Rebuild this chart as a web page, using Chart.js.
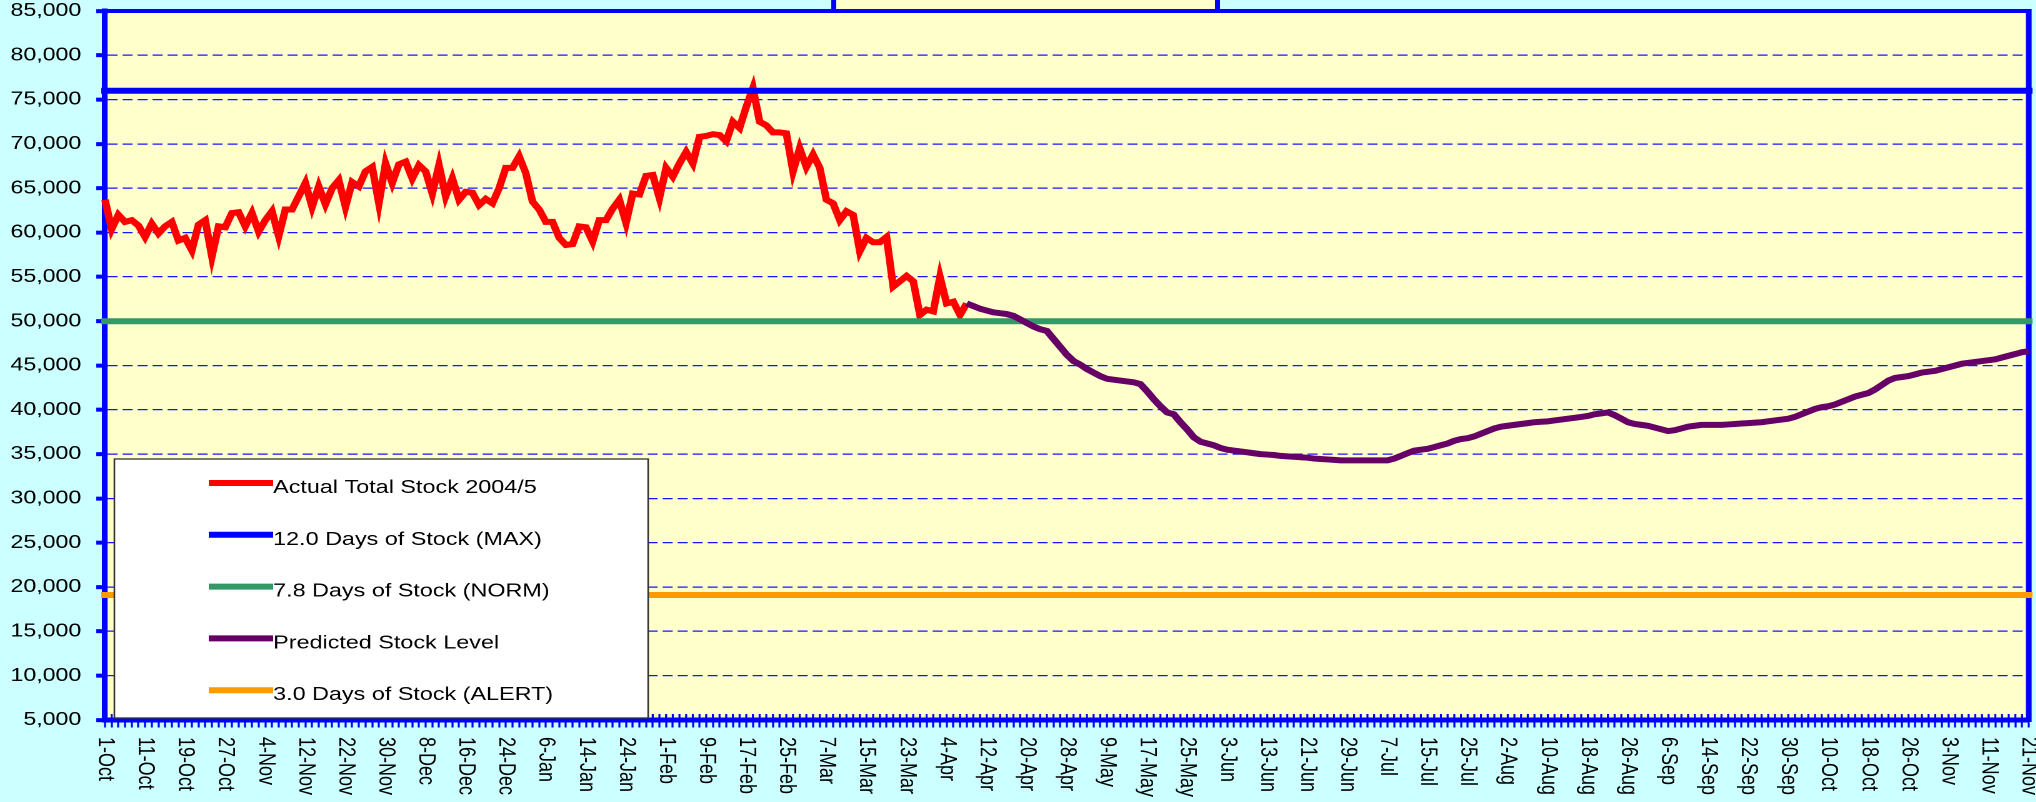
<!DOCTYPE html>
<html>
<head>
<meta charset="utf-8">
<title>Total Stock 2004/5</title>
<script src="https://cdn.jsdelivr.net/npm/chart.js@4.4.1/dist/chart.umd.min.js"></script>
<style>
  html, body { margin: 0; padding: 0; background: #ccffff; overflow: hidden; }
  /* the original picture is stretched sideways, so the chart is drawn narrow and widened */
  #wrap { width: 1629px; height: 802px; transform: scaleX(1.25); transform-origin: 0 0; }
</style>
</head>
<body>
<div id="wrap"><canvas id="stockChart" width="1629" height="802"></canvas></div>
<script>
// working days (no weekends, no bank holidays), Oct 2004 - Nov 2005
const monthNames = ['Oct', 'Nov', 'Dec', 'Jan', 'Feb', 'Mar', 'Apr', 'May', 'Jun', 'Jul', 'Aug', 'Sep', 'Oct', 'Nov'];
const monthDays = [
    [1, 4, 5, 6, 7, 8, 11, 12, 13, 14, 15, 18, 19, 20, 21, 22, 25, 26, 27, 28, 29],
    [1, 2, 3, 4, 5, 8, 9, 10, 11, 12, 15, 16, 17, 18, 19, 22, 23, 24, 25, 26, 29, 30],
    [1, 2, 3, 6, 7, 8, 9, 10, 13, 14, 15, 16, 17, 20, 21, 22, 23, 24, 29, 30, 31],
    [4, 5, 6, 7, 10, 11, 12, 13, 14, 17, 18, 19, 20, 21, 24, 25, 26, 27, 28, 31],
    [1, 2, 3, 4, 7, 8, 9, 10, 11, 14, 15, 16, 17, 18, 21, 22, 23, 24, 25, 28],
    [1, 2, 3, 4, 7, 8, 9, 10, 11, 14, 15, 16, 17, 18, 21, 22, 23, 24, 29, 30, 31],
    [1, 4, 5, 6, 7, 8, 11, 12, 13, 14, 15, 18, 19, 20, 21, 22, 25, 26, 27, 28, 29],
    [3, 4, 5, 6, 9, 10, 11, 12, 13, 16, 17, 18, 19, 20, 23, 24, 25, 26, 27, 31],
    [1, 2, 3, 6, 7, 8, 9, 10, 13, 14, 15, 16, 17, 20, 21, 22, 23, 24, 27, 28, 29, 30],
    [1, 4, 5, 6, 7, 8, 11, 12, 13, 14, 15, 18, 19, 20, 21, 22, 25, 26, 27, 28, 29],
    [1, 2, 3, 4, 5, 8, 9, 10, 11, 12, 15, 16, 17, 18, 19, 22, 23, 24, 25, 26, 30, 31],
    [1, 2, 5, 6, 7, 8, 9, 12, 13, 14, 15, 16, 19, 20, 21, 22, 23, 26, 27, 28, 29, 30],
    [3, 4, 5, 6, 7, 10, 11, 12, 13, 14, 17, 18, 19, 20, 21, 24, 25, 26, 27, 28, 31],
    [1, 2, 3, 4, 7, 8, 9, 10, 11, 14, 15, 16, 17, 18, 21]
];
const labelEvery = 6;

const actualStock = [
    63700, 60400, 62000, 61200, 61400, 60800, 59500, 61000, 59900, 60700,
    61200, 59100, 59400, 58000, 60900, 61400, 57300, 60700, 60600, 62200,
    62300, 60700, 62200, 60100, 61400, 62400, 59600, 62600, 62600, 64100,
    65600, 62900, 65200, 63200, 65000, 65900, 62900, 65700, 65200, 66900,
    67400, 63300, 67800, 65600, 67700, 68000, 66100, 67600, 66900, 64400,
    67600, 64100, 66100, 63700, 64600, 64500, 63100, 63800, 63300, 65000,
    67300, 67300, 68600, 66700, 63500, 62600, 61200, 61200, 59400, 58600,
    58700, 60700, 60600, 59000, 61400, 61400, 62700, 63700, 61100, 64400,
    64300, 66400, 66500, 63900, 67300, 66300, 67800, 69100, 67800, 70800,
    70900, 71100, 71000, 70300, 72500, 71800, 74200, 76300, 72500, 72100,
    71300, 71300, 71200, 66900, 69500, 67400, 68800, 67300, 63700, 63300,
    61400, 62400, 62000, 57900, 59400, 58900, 58900, 59500, 53900, 54500,
    55100, 54500, 50700, 51300, 51100, 55000, 52000, 52200, 50700, 52000
];

const predictedStart = 129;
const predictedStock = [
    52000, 51700, 51400, 51200, 51000, 50900, 50800, 50600, 50200, 49800,
    49400, 49100, 48900, 48000, 47100, 46200, 45500, 45100, 44600, 44200,
    43800, 43500, 43400, 43300, 43200, 43100, 42900, 42100, 41200, 40400,
    39700, 39500, 38600, 37800, 36900, 36400, 36200, 36000, 35700, 35500,
    35400, 35300, 35200, 35100, 35000, 34950, 34900, 34800, 34750, 34700,
    34650, 34600, 34500, 34450, 34400, 34350, 34300, 34300, 34300, 34300,
    34300, 34300, 34300, 34300, 34500, 34800, 35100, 35400, 35500, 35600,
    35800, 36000, 36200, 36500, 36700, 36800, 37000, 37300, 37600, 37900,
    38100, 38200, 38300, 38400, 38500, 38600, 38650, 38700, 38800, 38900,
    39000, 39100, 39200, 39300, 39500, 39600, 39700, 39400, 39000, 38600,
    38400, 38300, 38200, 38000, 37800, 37600, 37700, 37900, 38100, 38200,
    38300, 38300, 38300, 38300, 38350, 38400, 38450, 38500, 38550, 38600,
    38700, 38800, 38900, 39000, 39200, 39500, 39800, 40100, 40300, 40400,
    40600, 40900, 41200, 41500, 41700, 41900, 42300, 42800, 43300, 43600,
    43700, 43800, 44000, 44200, 44300, 44400, 44600, 44800, 45000, 45200,
    45300, 45400, 45500, 45600, 45700, 45900, 46100, 46300, 46500, 46600
];

const maxLevel = 76000;    // 12.0 days
const normLevel = 50000;   // 7.8 days
const alertLevel = 19100;  // 3.0 days

const seriesNames = [
    'Actual Total Stock 2004/5',
    '12.0 Days of Stock (MAX)',
    '7.8 Days of Stock (NORM)',
    'Predicted Stock Level',
    '3.0 Days of Stock (ALERT)'
];

const FONT = "'Liberation Sans', Arial, sans-serif";
const BLUE = '#0000ff';

const dates = monthNames.flatMap((m, k) => monthDays[k].map(d => d + '-' + m));
const flatLine = v => [{ x: dates[0], y: v }, { x: dates[dates.length - 1], y: v }];

// background, frame, legend box and the rotated date labels
const decorations = {
    id: 'decorations',
    beforeDraw(chart) {
        const { ctx, chartArea: a, width } = chart;
        ctx.save();
        ctx.fillStyle = '#ccffff';
        ctx.fillRect(0, 0, width, chart.height);
        ctx.fillStyle = '#ffffcc';
        ctx.fillRect(a.left, a.top, a.right - a.left, a.bottom - a.top);
        // bottom of the title box, cut off by the picture edge
        const cx = width / 2 + 6, hw = 153.5;
        ctx.fillRect(cx - hw, 0, hw * 2, a.top);
        ctx.strokeStyle = BLUE;
        ctx.lineWidth = 4;
        ctx.beginPath();
        ctx.moveTo(cx - hw, 0); ctx.lineTo(cx - hw, a.top);
        ctx.moveTo(cx + hw, 0); ctx.lineTo(cx + hw, a.top);
        ctx.stroke();
        ctx.restore();
    },
    beforeDatasetsDraw(chart) {
        const { ctx, chartArea: a } = chart;
        const xs = chart.scales.x;
        ctx.save();
        ctx.strokeStyle = BLUE;
        ctx.lineWidth = 4;
        ctx.beginPath();
        ctx.moveTo(a.left - 2, a.top); ctx.lineTo(a.right + 2, a.top);
        ctx.stroke();
        ctx.lineWidth = 4.6;
        ctx.beginPath();
        ctx.moveTo(a.right, a.top - 2); ctx.lineTo(a.right, a.bottom + 2);
        ctx.stroke();
        // inner half of the cross tick marks
        ctx.lineWidth = 1.6;
        ctx.beginPath();
        dates.forEach((d, i) => {
            const x = xs.getPixelForValue(i);
            ctx.moveTo(x, a.bottom - 6);
            ctx.lineTo(x, a.bottom);
        });
        ctx.stroke();
        ctx.restore();
    },
    afterDraw(chart) {
        const { ctx, chartArea: a } = chart;
        const xs = chart.scales.x;
        ctx.save();
        // date labels, reading downwards
        ctx.fillStyle = '#000';
        ctx.font = '18px ' + FONT;
        ctx.textAlign = 'left';
        ctx.textBaseline = 'middle';
        dates.forEach((d, i) => {
            if (i % labelEvery !== 0) return;
            ctx.save();
            ctx.translate(xs.getPixelForValue(i), a.bottom + 17);
            ctx.rotate(Math.PI / 2);
            ctx.fillText(d, 0, 0);
            ctx.restore();
        });

        // legend
        const left = a.left + 7.5, bottom = a.bottom - 2;
        const w = 427, h = 259, top = bottom - h;
        ctx.fillStyle = '#ffffff';
        ctx.fillRect(left, top, w, h);
        ctx.strokeStyle = '#333333';
        ctx.lineWidth = 1.3;
        ctx.strokeRect(left, top, w, h);
        ctx.font = '18.7px ' + FONT;
        ctx.textBaseline = 'alphabetic';
        chart.data.datasets.forEach((ds, k) => {
            const y = top + 24 + k * 51.8;
            ctx.strokeStyle = ds.borderColor;
            ctx.lineWidth = 6;
            ctx.beginPath();
            ctx.moveTo(left + 75.5, y);
            ctx.lineTo(left + 127, y);
            ctx.stroke();
            ctx.fillStyle = '#000';
            ctx.fillText(ds.label, left + 127, y + 10);
        });
        ctx.restore();
    }
};

new Chart(document.getElementById('stockChart'), {
    type: 'line',
    data: {
        labels: dates,
        datasets: [
            {
                label: seriesNames[0],
                data: actualStock,
                borderColor: '#ff0000',
                borderWidth: 6,
                order: 5
            },
            {
                label: seriesNames[1],
                data: flatLine(maxLevel),
                borderColor: '#0000ff',
                borderWidth: 6,
                borderCapStyle: 'square',
                order: 4
            },
            {
                label: seriesNames[2],
                data: flatLine(normLevel),
                borderColor: '#339966',
                borderWidth: 6,
                borderCapStyle: 'square',
                order: 3
            },
            {
                label: seriesNames[3],
                data: new Array(predictedStart).fill(null).concat(predictedStock),
                borderColor: '#660066',
                borderWidth: 6,
                order: 2
            },
            {
                label: seriesNames[4],
                data: flatLine(alertLevel),
                borderColor: '#ff9900',
                borderWidth: 6,
                borderCapStyle: 'square',
                order: 1
            }
        ]
    },
    options: {
        responsive: false,
        animation: false,
        devicePixelRatio: 2,
        layout: { padding: { top: 11, right: 6, left: 0, bottom: 0 } },
        elements: {
            point: { radius: 0, hoverRadius: 0 },
            line: { tension: 0, fill: false }
        },
        plugins: {
            legend: { display: false },
            title: { display: false },
            tooltip: { enabled: false }
        },
        scales: {
            x: {
                type: 'category',
                offset: false,
                ticks: { display: false, autoSkip: false },
                grid: {
                    drawOnChartArea: false,
                    drawTicks: true,
                    tickLength: 7.5,
                    tickWidth: 1.6,
                    tickColor: BLUE
                },
                border: { display: true, color: BLUE, width: 5 },
                afterFit: s => { s.height = 82; s.paddingLeft = 0; s.paddingRight = 0; }
            },
            y: {
                min: 5000,
                max: 85000,
                ticks: {
                    stepSize: 5000,
                    color: '#000',
                    padding: 12,
                    font: { family: FONT, size: 18.5 },
                    callback: v => v.toLocaleString('en-US')
                },
                grid: {
                    color: '#1515ff',
                    lineWidth: 1.3,
                    tickLength: 7,
                    tickWidth: 4,
                    tickColor: BLUE
                },
                border: { display: true, color: BLUE, width: 4.6, dash: [8, 4] },
                afterFit: s => { s.width = 84; s.paddingTop = 0; s.paddingBottom = 0; }
            }
        }
    },
    plugins: [decorations]
});
</script>
</body>
</html>
